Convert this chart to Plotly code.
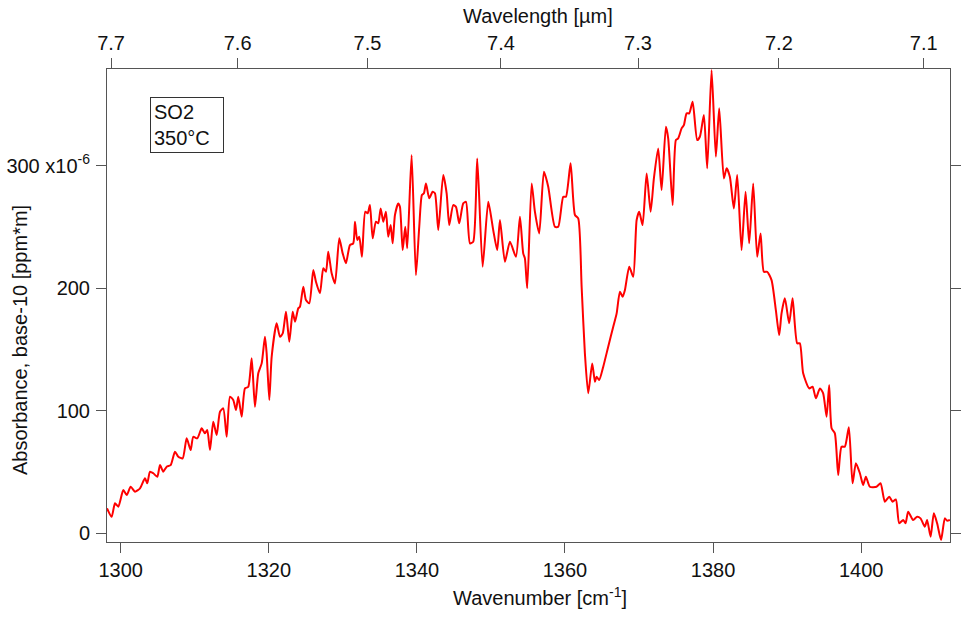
import plotly.graph_objects as go

# SO2 absorbance spectrum at 350 °C (absorbance values in units of 1e-6 per ppm*m)
wavenumber = [
    1298.15, 1298.78, 1299.23, 1299.68, 1300.35, 1300.81, 1301.35, 1301.93, 1302.61, 1303.28,
    1303.59, 1303.96, 1304.40, 1304.94, 1305.31, 1305.75, 1306.21, 1306.75, 1307.33, 1307.78,
    1308.37, 1308.91, 1309.45, 1309.80, 1310.34, 1310.94, 1311.38, 1311.69, 1312.06, 1312.50,
    1312.96, 1313.41, 1313.85, 1314.31, 1314.76, 1315.20, 1315.57, 1315.88, 1316.34, 1316.78,
    1317.23, 1317.69, 1318.13, 1318.58, 1319.04, 1319.48, 1319.71, 1320.07, 1320.39, 1321.06,
    1321.51, 1321.88, 1322.32, 1322.77, 1323.23, 1323.54, 1323.98, 1324.21, 1324.66, 1325.02,
    1325.47, 1326.01, 1326.37, 1326.91, 1327.36, 1327.72, 1328.03, 1328.49, 1328.94, 1329.52,
    1329.98, 1330.42, 1330.96, 1331.41, 1331.64, 1331.95, 1332.22, 1332.58, 1333.03, 1333.35,
    1333.66, 1334.03, 1334.47, 1334.78, 1335.11, 1335.46, 1335.82, 1336.13, 1336.46, 1336.73,
    1337.04, 1337.48, 1337.71, 1338.08, 1338.43, 1338.70, 1339.29, 1339.87, 1340.32, 1340.68,
    1340.95, 1341.23, 1341.67, 1342.13, 1342.44, 1342.89, 1343.56, 1344.02, 1344.37, 1344.91,
    1345.28, 1345.72, 1346.26, 1346.63, 1347.17, 1347.61, 1348.15, 1348.88, 1349.64, 1350.31,
    1350.85, 1351.22, 1351.89, 1352.57, 1353.38, 1353.92, 1354.36, 1354.59, 1354.90, 1355.50,
    1355.94, 1356.52, 1357.16, 1357.74, 1358.64, 1359.09, 1359.77, 1360.13, 1360.76, 1361.35,
    1361.79, 1362.25, 1362.69, 1363.14, 1363.68, 1364.05, 1364.27, 1364.62, 1365.17, 1365.84,
    1366.52, 1366.98, 1367.42, 1367.79, 1368.10, 1368.68, 1369.22, 1369.68, 1370.03, 1370.48,
    1371.03, 1371.57, 1372.01, 1372.59, 1373.05, 1373.63, 1373.94, 1374.54, 1374.98, 1375.29,
    1375.75, 1376.06, 1376.43, 1376.78, 1377.24, 1377.86, 1378.22, 1378.76, 1379.21, 1379.80,
    1380.38, 1380.83, 1381.46, 1381.83, 1382.27, 1382.81, 1383.26, 1383.85, 1384.39, 1384.88,
    1385.42, 1385.96, 1386.42, 1386.86, 1387.31, 1387.90, 1388.48, 1388.93, 1389.25, 1389.70,
    1390.28, 1390.74, 1391.36, 1391.72, 1392.17, 1392.98, 1393.44, 1393.89, 1394.43, 1394.87,
    1395.33, 1395.68, 1396.01, 1396.45, 1396.90, 1397.35, 1397.80, 1398.34, 1398.84, 1399.29,
    1399.83, 1400.27, 1400.64, 1401.18, 1402.08, 1402.62, 1403.20, 1403.79, 1404.25, 1404.69,
    1405.14, 1405.68, 1406.00, 1406.35, 1407.02, 1407.56, 1408.02, 1408.60, 1408.91, 1409.38,
    1409.82, 1410.26, 1410.80, 1411.30, 1411.61, 1411.98,
]
absorbance = [
    20.4, 13.5, 24.5, 21.7, 35.3, 31.3, 38.0, 34.0, 36.7, 44.9,
    40.8, 50.3, 49.0, 46.2, 55.7, 50.3, 54.4, 55.7, 66.6, 62.5,
    61.2, 77.5, 68.0, 78.8, 77.5, 85.7, 81.6, 84.3, 68.0, 91.1,
    80.2, 99.2, 102.0, 78.8, 111.5, 108.8, 100.6, 111.5, 95.2, 118.3,
    119.6, 142.8, 103.3, 130.6, 138.7, 160.4, 146.9, 108.8, 144.1, 171.4,
    160.4, 163.2, 180.9, 156.4, 180.9, 172.7, 183.6, 184.9, 201.3, 190.4,
    187.7, 214.9, 205.3, 195.9, 216.3, 213.5, 229.8, 212.2, 204.0, 240.8,
    228.5, 220.4, 235.3, 236.7, 254.3, 239.4, 242.1, 225.7, 262.5, 261.2,
    267.9, 240.8, 254.3, 253.0, 265.2, 254.3, 262.5, 242.1, 251.6, 236.7,
    259.8, 269.3, 266.5, 231.2, 250.2, 232.6, 308.7, 210.8, 250.2, 276.1,
    277.5, 285.6, 273.4, 278.8, 277.5, 247.5, 292.4, 277.5, 251.6, 267.9,
    266.5, 253.0, 269.3, 270.6, 236.7, 238.0, 306.0, 217.6, 270.6, 247.5,
    231.2, 255.7, 221.7, 238.0, 225.7, 258.4, 228.5, 224.4, 200.0, 285.6,
    262.5, 244.8, 295.1, 282.9, 250.2, 250.2, 274.7, 274.7, 302.0, 259.8,
    257.1, 201.3, 146.9, 114.3, 138.7, 123.7, 127.8, 125.1, 136.0, 152.3,
    168.6, 179.5, 197.2, 193.1, 198.6, 217.6, 209.4, 255.7, 262.5, 251.6,
    293.8, 262.5, 289.7, 314.2, 280.2, 331.8, 322.4, 267.9, 321.0, 322.4,
    330.5, 333.2, 342.8, 342.8, 352.2, 321.0, 323.7, 341.4, 297.9, 378.1,
    307.4, 346.9, 289.7, 297.9, 291.0, 265.2, 292.4, 231.2, 278.8, 236.7,
    285.6, 225.7, 244.8, 213.5, 213.5, 206.7, 182.2, 161.8, 179.5, 191.8,
    171.4, 191.8, 155.1, 155.1, 130.6, 118.3, 119.6, 110.2, 118.3, 114.3,
    95.2, 121.0, 85.7, 81.6, 47.6, 70.7, 70.7, 86.5, 40.8, 57.1,
    49.0, 39.4, 46.2, 38.0, 38.0, 40.8, 25.8, 29.9, 25.8, 27.7,
    8.2, 10.9, 8.2, 17.6, 10.9, 13.5, 12.2, 5.4, 10.9, -2.8,
    16.3, 8.2, -5.5, 12.2, 10.3, 10.9,
]

# axis ticks
wn_ticks = [1300, 1320, 1340, 1360, 1380, 1400]
abs_ticks = [0, 100, 200, 300]
abs_tick_text = ["0", "100", "200", "300 x10<sup>-6</sup>"]
wavelength_ticks = [7.7, 7.6, 7.5, 7.4, 7.3, 7.2, 7.1]

x_range = [1298.15, 1412.0]
y_range = [-7.1, 379.0]

FONT = "Arial, Liberation Sans, sans-serif"
AXIS_COLOR = "#555555"
FS = 20

fig = go.Figure()
fig.add_trace(go.Scatter(
    x=wavenumber, y=absorbance, mode="lines",
    line=dict(color="#ff0000", width=2, shape="spline", smoothing=0.6),
    showlegend=False, hoverinfo="skip",
))
# invisible trace bound to the top (wavelength) axis so it is drawn
fig.add_trace(go.Scatter(
    x=wavenumber, y=absorbance, mode="lines", xaxis="x2",
    line=dict(color="rgba(0,0,0,0)", width=0),
    showlegend=False, hoverinfo="skip",
))

common_axis = dict(
    showgrid=False, zeroline=False, showline=True, linecolor=AXIS_COLOR, linewidth=1,
    ticks="outside", ticklen=10, tickwidth=1, tickcolor=AXIS_COLOR, automargin=False,
    tickfont=dict(family=FONT, size=FS, color="#111111"),
)

fig.update_layout(
    width=964, height=617,
    margin=dict(l=107, r=14, t=69, b=75),
    paper_bgcolor="white", plot_bgcolor="white",
    font=dict(family=FONT, size=FS, color="#111111"),
    xaxis=dict(
        range=x_range, tickvals=wn_ticks, mirror=True, **common_axis,
    ),
    xaxis2=dict(
        range=x_range, overlaying="x", side="top", anchor="y",
        tickvals=[10000.0 / w for w in wavelength_ticks],
        ticktext=[f"{w:.1f}" for w in wavelength_ticks],
        **common_axis,
    ),
    yaxis=dict(
        range=y_range, tickvals=abs_ticks, ticktext=abs_tick_text,
        mirror="ticks", ticklabelstandoff=2, **common_axis,
    ),
    annotations=[
        dict(text="Wavenumber [cm<sup>-1</sup>]", xref="paper", yref="paper",
             x=(540 - 107) / 843, y=(542 - 596) / 473, showarrow=False,
             xanchor="center", yanchor="middle", font=dict(size=FS)),
        dict(text="Wavelength [µm]", xref="paper", yref="paper",
             x=(538 - 107) / 843, y=(542 - 16) / 473, showarrow=False,
             xanchor="center", yanchor="middle", font=dict(size=FS)),
        dict(text="Absorbance, base-10 [ppm*m]", xref="paper", yref="paper",
             x=(20 - 107) / 843, y=(542 - 340) / 473, showarrow=False,
             textangle=-90, xanchor="center", yanchor="middle", font=dict(size=FS)),
        dict(text="SO2<br>350°C", xref="paper", yref="paper",
             x=(150 - 107) / 843, y=(542 - 97) / 473, showarrow=False,
             xanchor="left", yanchor="top", align="left", width=66,
             bordercolor="#333333", borderwidth=1, borderpad=3,
             bgcolor="white", font=dict(size=FS)),
    ],
)

fig.write_html("out.html")
